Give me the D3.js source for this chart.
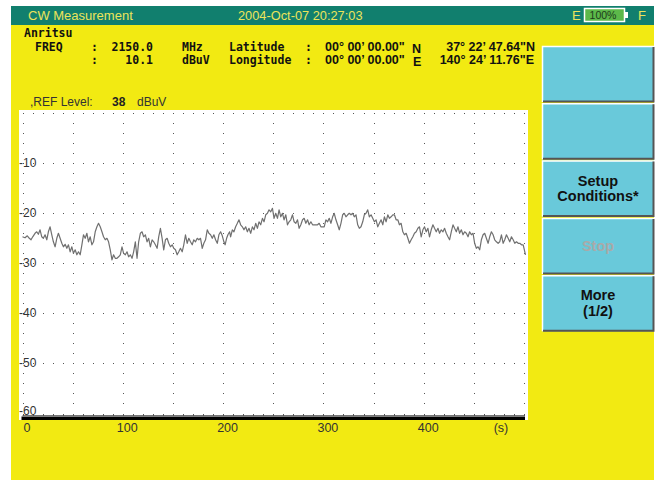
<!DOCTYPE html>
<html lang="en">
<head>
    <meta charset="UTF-8">
    <title> CW Measurement </title>
    <script src="https://cdn.jsdelivr.net/npm/d3@7/dist/d3.min.js"></script>
    <style>
        body { margin: 0; background: #fff; }
        text { font-family: "Liberation Sans", Arial, sans-serif; }
        .mono { font-family: "DejaVu Sans Mono", "Liberation Mono", monospace; font-weight: bold; font-size: 11.5px; fill: #111; }
        .coord { font-family: "Liberation Sans", Arial, sans-serif; font-weight: bold; font-size: 12.5px; fill: #111; }
    </style>
</head>
<body>
<svg width="658" height="483"></svg>
<script>
    // trace: time (s) and level (dB)
    const seconds = [
        0,2.5,4.8,6.8,8.5,10.2,12.5,14.2,15.8,17.5,19.2,20.8,22.5,24.2,25.8,27.5,29.2,30.8,32.5,34.2,
        35.8,37.5,39.2,40.8,42.5,44.2,45.8,47.5,49.2,50.8,52.5,54.2,55.8,57.5,59.2,60.8,62.5,64.2,65.8,67.5,
        69.2,70.8,72.5,74.2,75.8,77.5,79.2,80.8,82.5,84.2,85.8,87.5,89.2,90.8,92.5,94.2,95.8,97.5,99.2,100.8,
        102.5,104.2,105.8,107.5,109.2,110.8,112.5,114.2,115.8,117.5,119.2,120.8,122.5,124.2,125.8,127.5,129.2,130.8,132.5,134.2,
        135.8,137.5,139.2,140.8,142.5,144.2,145.8,147.5,149.2,150.8,152.5,154.2,155.8,157.5,159.2,160.8,162.5,164.2,165.8,167.5,
        169.2,170.8,172.5,174.2,175.8,177.5,179.2,180.8,182.5,184.2,185.8,187.5,189.2,190.8,192.5,194.2,195.8,197.5,199.2,
        200.8,202.0,203.5,204.8,206.5,207.5,209.2,210.8,212.5,214.2,215.8,217.5,219.2,220.8,222.5,224.2,225.8,227.5,229.2,230.8,
        232.5,234.2,235.8,237.5,239.2,240.8,242.5,244.2,245.8,247.5,249.2,250.8,252.5,254.2,255.8,257.5,259.2,260.8,262.5,264.2,
        265.8,267.5,269.2,270.8,272.5,274.2,275.8,277.5,279.2,280.8,282.5,284.2,285.8,287.5,289.2,290.8,292.5,294.2,295.8,297.5,299.2,
        300.8,302.5,304.2,305.8,307.5,309.2,310.8,312.5,314.2,315.8,317.5,319.2,320.8,322.5,324.2,325.8,327.5,329.2,330.8,332.5,
        334.2,335.8,337.5,339.2,340.8,342.5,344.2,345.8,347.5,349.2,350.8,352.5,354.2,355.8,357.5,359.2,360.8,362.5,364.2,365.8,
        367.5,369.2,370.8,372.5,374.2,375.8,377.5,379.2,380.8,382.5,384.2,385.8,387.5,389.2,390.8,392.5,394.2,395.8,397.5,399.2,
        400.8,402.5,404.2,405.8,407.5,409.2,410.8,412.5,414.2,415.8,417.5,419.2,420.8,422.5,424.2,425.8,427.5,429.2,430.8,432.5,
        434.2,435.8,437.5,439.2,440.8,442.5,444.2,445.8,447.5,449.2,450.8,452.5,454.2,455.8,457.5,459.2,460.8,462.5,464.2,465.8,
        467.5,469.2,470.8,472.5,474.2,475.8,477.5,479.2,480.8,482.5,484.2,485.8,487.5,489.2,490.8,492.5,494.2,495.8,497.5,499.2,501.5
    ];
    const levels = [
        -24.7,-24.9,-24.5,-25.0,-25.3,-24.7,-24.0,-23.7,-24.2,-23.3,-24.7,-25.0,-24.3,-25.3,-23.7,-22.7,-24.3,-25.7,-26.7,-25.0,
        -24.0,-25.0,-26.0,-26.7,-26.2,-27.0,-26.3,-27.7,-26.7,-28.0,-27.3,-28.3,-27.7,-28.3,-26.3,-24.3,-25.0,-24.0,-25.7,-24.7,
        -26.3,-25.7,-23.7,-22.7,-22.0,-22.7,-23.7,-24.7,-25.3,-25.0,-25.7,-27.3,-29.3,-28.3,-29.0,-29.0,-28.7,-28.3,-26.7,-28.0,
        -28.3,-27.7,-28.7,-28.3,-29.0,-27.7,-25.7,-29.0,-25.7,-24.0,-23.7,-24.7,-24.3,-25.7,-25.0,-26.7,-25.3,-25.7,-26.3,-27.0,
        -24.7,-23.0,-25.0,-27.3,-25.3,-25.0,-26.0,-26.7,-26.3,-27.0,-27.3,-28.3,-27.7,-27.0,-27.7,-26.3,-24.3,-26.0,-25.0,-25.7,
        -26.3,-25.3,-25.7,-25.0,-25.3,-25.0,-27.0,-26.0,-25.3,-23.3,-24.0,-24.3,-25.0,-24.3,-25.3,-26.0,-24.3,-23.7,-24.5,
        -25.7,-26.3,-25.0,-24.3,-23.7,-24.7,-23.3,-23.7,-22.7,-22.0,-21.3,-22.3,-22.7,-23.3,-22.7,-23.7,-23.0,-24.0,-22.7,-23.3,
        -22.0,-23.0,-21.7,-22.3,-21.0,-21.7,-20.3,-20.0,-19.3,-19.7,-19.0,-21.0,-20.0,-21.0,-19.3,-20.7,-20.0,-21.3,-20.3,-22.3,
        -21.7,-21.3,-20.3,-21.7,-22.0,-21.3,-23.0,-22.3,-21.3,-21.0,-22.0,-21.3,-22.3,-21.7,-22.3,-22.3,-22.3,-22.3,-22.0,-22.7,-22.7,
        -22.7,-21.3,-21.7,-21.0,-22.0,-20.7,-20.0,-21.3,-22.3,-23.3,-22.0,-20.3,-20.0,-20.7,-20.3,-20.0,-20.3,-20.0,-20.7,-20.3,
        -22.3,-23.0,-22.7,-21.7,-20.3,-20.0,-19.3,-20.7,-20.3,-21.0,-21.7,-21.3,-22.7,-22.0,-21.3,-22.3,-20.7,-21.7,-20.3,-21.0,
        -20.7,-20.3,-20.3,-21.3,-21.3,-22.3,-22.0,-23.7,-24.3,-24.0,-25.0,-26.0,-25.3,-24.7,-24.0,-23.7,-23.0,-22.7,-24.7,-23.3,
        -22.7,-23.7,-23.0,-24.7,-23.3,-22.3,-23.0,-23.7,-23.0,-24.0,-23.3,-23.7,-23.0,-24.0,-24.7,-25.3,-23.7,-22.3,-23.0,-23.7,
        -22.7,-24.0,-23.3,-24.3,-23.7,-24.0,-24.7,-23.7,-24.3,-24.0,-26.0,-27.0,-26.7,-27.3,-25.3,-24.3,-24.0,-25.0,-26.0,-24.7,
        -23.7,-24.3,-25.3,-25.7,-26.0,-25.7,-24.3,-26.0,-25.3,-24.3,-25.0,-25.7,-24.7,-25.3,-26.0,-25.7,-26.0,-26.0,-26.3,-26.3,-28.3
    ];
    const yTicks = [-10, -20, -30, -40, -50, -60];
    const xTicks = [0, 100, 200, 300, 400];
    const xUnit = "(s)";
    const softKeys = [[], [], ["Setup", "Conditions*"], ["Stop"], ["More", "(1/2)"]];

    let svg = d3.select('svg');

    // frame
    svg.append("rect").attr("x", 11).attr("y", 6).attr("width", 643).attr("height", 19).attr("fill", "#117f6e");
    svg.append("rect").attr("x", 11).attr("y", 25).attr("width", 643).attr("height", 455).attr("fill", "#f2ea12");

    // title bar
    svg.append("text").attr("x", 28).attr("y", 20).attr("font-size", 13).attr("fill", "#ece45a").text("CW Measurement");
    svg.append("text").attr("x", 238).attr("y", 20).attr("font-size", 12.8).attr("fill", "#ece45a").text("2004-Oct-07 20:27:03");
    svg.append("text").attr("x", 572).attr("y", 20).attr("font-size", 13).attr("fill", "#ece45a").text("E");
    svg.append("text").attr("x", 638).attr("y", 20).attr("font-size", 13).attr("fill", "#ece45a").text("F");
    svg.append("rect").attr("x", 584.5).attr("y", 8.5).attr("width", 40).attr("height", 13)
        .attr("fill", "#5cb84a").attr("stroke", "#fff").attr("stroke-width", 1.5);
    svg.append("rect").attr("x", 625).attr("y", 12).attr("width", 3).attr("height", 6).attr("fill", "#fff");
    svg.append("text").attr("x", 603).attr("y", 19).attr("font-size", 10.5).attr("text-anchor", "middle")
        .attr("fill", "#1d3a1a").text("100%");

    // header readout
    let hdr = svg.append("g");
    let put = (x, y, s, cls, anchor) => hdr.append("text").attr("class", cls).attr("x", x).attr("y", y)
        .attr("text-anchor", anchor || "start").text(s);
    put(24, 37, "Anritsu", "mono");
    put(35, 51, "FREQ", "mono"); put(91, 51, ":", "mono"); put(153, 51, "2150.0", "mono", "end"); put(182, 51, "MHz", "mono");
    put(229, 51, "Latitude", "mono"); put(305, 51, ":", "mono");
    put(325, 51, "00\u00b0 00\u2019 00.00\"", "coord"); put(412, 53, "N", "coord");
    put(535, 51, "37\u00b0 22\u2019 47.64\"N", "coord", "end");
    put(91, 64, ":", "mono"); put(153, 64, "10.1", "mono", "end"); put(182, 64, "dBuV", "mono");
    put(229, 64, "Longitude", "mono"); put(305, 64, ":", "mono");
    put(325, 64, "00\u00b0 00\u2019 00.00\"", "coord"); put(413, 66, "E", "coord");
    put(534, 64, "140\u00b0 24\u2019 11.76\"E", "coord", "end");

    svg.append("text").attr("x", 30).attr("y", 106).attr("font-size", 12).attr("fill", "#333").text(",REF Level:");
    svg.append("text").attr("x", 112).attr("y", 106).attr("font-size", 12).attr("font-weight", "bold").attr("fill", "#222").text("38");
    svg.append("text").attr("x", 137).attr("y", 106).attr("font-size", 12).attr("fill", "#333").text("dBuV");

    // plot area
    let scaleX = d3.scaleLinear().domain([0, 500]).range([22.5, 524]);
    let scaleY = d3.scaleLinear().domain([-60, 0]).range([413.3, 113.3]);

    svg.append("rect").attr("x", 19).attr("y", 110).attr("width", 509).attr("height", 310).attr("fill", "#fff");

    // dotted grid
    let grid = svg.append("g").attr("fill", "#555");
    d3.range(0, 501, 50).forEach(t => {
        d3.range(0, -59, -2).forEach(v => {
            grid.append("rect").attr("x", Math.round(scaleX(t))).attr("y", Math.round(scaleY(v))).attr("width", 1).attr("height", 1);
        });
    });
    d3.range(0, -51, -10).forEach(v => {
        d3.range(0, 501, 10).forEach(t => {
            grid.append("rect").attr("x", Math.round(scaleX(t))).attr("y", Math.round(scaleY(v))).attr("width", 1).attr("height", 1);
        });
    });

    // bottom axis bar
    svg.append("rect").attr("x", scaleX(0) - 1).attr("y", 416.5).attr("width", scaleX(500) - scaleX(0) + 2).attr("height", 3.5).attr("fill", "#000");
    svg.append("line").attr("x1", scaleX(0)).attr("x2", scaleX(500)).attr("y1", 415.5).attr("y2", 415.5)
        .attr("stroke", "#777").attr("stroke-width", 1);
    d3.range(0, 501, 10).forEach(t => {
        svg.append("rect").attr("x", Math.round(scaleX(t))).attr("y", 414).attr("width", 1).attr("height", 2).attr("fill", "#555");
    });

    // trace
    let line = d3.line()
        .x(function (d) { return scaleX(d[0]) })
        .y(function (d) { return scaleY(d[1]) });
    svg.append("path")
        .data([d3.zip(seconds, levels)])
        .attr("d", line)
        .style("fill", "none")
        .style("stroke", "#707070")
        .style("stroke-width", "1.2px")
        .style("stroke-linejoin", "round");

    // tick labels
    svg.selectAll(".ylab").data(yTicks).enter().append("text")
        .attr("x", 19).attr("y", d => scaleY(d) + 4 - (d === -60 ? 2 : 0))
        .attr("font-size", 12).attr("fill", "#333").text(d => d);
    svg.selectAll(".xlab").data(xTicks).enter().append("text")
        .attr("x", d => scaleX(d) + 4.5).attr("y", 432).attr("text-anchor", "middle")
        .attr("font-size", 12.5).attr("fill", "#333").text(d => d);
    svg.append("text").attr("x", 501).attr("y", 432).attr("text-anchor", "middle")
        .attr("font-size", 12.5).attr("fill", "#333").text(xUnit);

    // soft keys
    softKeys.forEach((lines, i) => {
        let y0 = 46 + i * 57.3, h = 56;
        let g = svg.append("g");
        g.append("rect").attr("x", 542).attr("y", y0).attr("width", 112).attr("height", h).attr("fill", "#69c9da");
        g.append("path").attr("d", `M542.5,${y0 + h} V${y0 + 0.5} H654`).attr("fill", "none").attr("stroke", "#fff").attr("stroke-width", 1.5);
        g.append("path").attr("d", `M543,${y0 + h - 0.5} H653.5 V${y0 + 1}`).attr("fill", "none").attr("stroke", "#555").attr("stroke-width", 2);
        let cy = y0 + h / 2;
        lines.forEach((s, k) => {
            g.append("text").attr("x", 598).attr("y", cy + 5 + (k - (lines.length - 1) / 2) * 15.5)
                .attr("text-anchor", "middle").attr("font-size", 14.5).attr("font-weight", "bold")
                .attr("fill", s === "Stop" ? "#a9a9a9" : "#111").text(s);
        });
    });
</script>
</body>
</html>
